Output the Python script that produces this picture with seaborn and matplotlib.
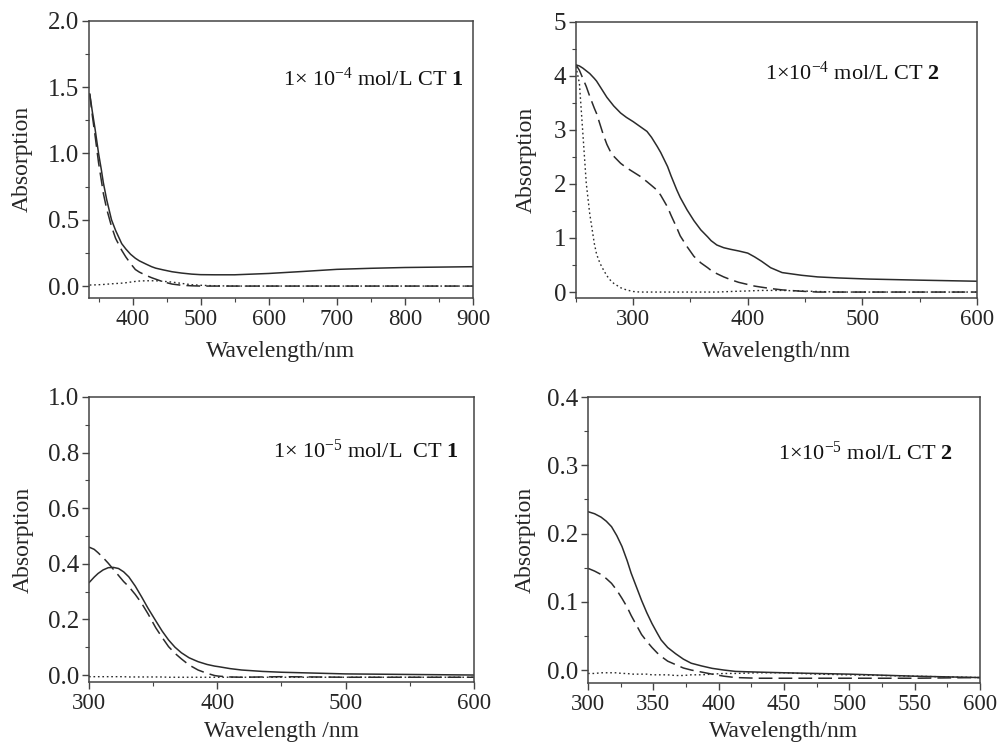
import numpy as np
import pandas as pd
import seaborn as sns
import matplotlib
matplotlib.use('Agg')
import matplotlib.pyplot as plt
from matplotlib import font_manager
from matplotlib.ticker import MultipleLocator

sns.set_style('ticks')

# make sure a Times-like serif is registered
serif_name = 'Liberation Serif'
for f in font_manager.findSystemFonts():
    if 'LiberationSerif' in f.replace(' ', ''):
        font_manager.fontManager.addfont(f)
        serif_name = font_manager.FontProperties(fname=f).get_name()
plt.rcParams['font.family'] = [serif_name, 'DejaVu Serif']
plt.rcParams['mathtext.fontset'] = 'custom'
plt.rcParams['mathtext.rm'] = serif_name
plt.rcParams['mathtext.bf'] = serif_name + ':bold'
plt.rcParams['mathtext.it'] = serif_name + ':italic'

# ---- panel a: 1e-4 mol/L CT 1 ----
wl_a = [337, 341, 345, 350, 354, 357, 362, 369, 375, 384, 390, 397, 404, 410, 420, 428, 434, 445,
        458, 472, 487, 500, 521, 550, 600, 650, 700, 750, 800, 850, 900]
solid_a = [1.45, 1.31, 1.18, 1.00, 0.88, 0.78, 0.65, 0.50, 0.42, 0.32, 0.28, 0.24, 0.21, 0.19, 0.165,
           0.146, 0.135, 0.122, 0.108, 0.098, 0.09, 0.086, 0.085, 0.085, 0.095, 0.11, 0.126, 0.134,
           0.14, 0.143, 0.146]
dash_a = [1.45, 1.28, 1.13, 0.93, 0.80, 0.70, 0.58, 0.45, 0.36, 0.27, 0.22, 0.17, 0.125, 0.105, 0.08,
          0.063, 0.052, 0.032, 0.015, 0.006, 0.002, 0.0, 0.0, 0.0, 0.0, 0.0, 0.0, 0.0, 0.0, 0.0, 0.0]
dot_a = [0.008, 0.008, 0.009, 0.010, 0.011, 0.012, 0.014, 0.017, 0.019, 0.022, 0.025, 0.030, 0.035,
         0.038, 0.040, 0.040, 0.040, 0.036, 0.030, 0.020, 0.010, 0.006, 0.002, 0.0, 0.0, 0.0, 0.0,
         0.0, 0.0, 0.0, 0.0]

# ---- panel b: 1e-4 mol/L CT 2 ----
wl_b = [250, 253, 256, 259, 262, 266, 268, 271, 274, 277, 280, 283, 289, 294, 300, 306, 312, 316,
        321, 324, 330, 333, 338, 341, 347, 353, 359, 365, 368, 373, 379, 385, 392, 400, 406, 412,
        420, 430, 447, 461, 480, 506, 550, 600]
solid_b = [4.20, 4.18, 4.14, 4.09, 4.04, 3.95, 3.90, 3.80, 3.70, 3.60, 3.52, 3.44, 3.31, 3.23, 3.15,
           3.06, 2.97, 2.86, 2.69, 2.58, 2.32, 2.15, 1.89, 1.75, 1.52, 1.32, 1.15, 1.02, 0.95, 0.87,
           0.82, 0.79, 0.76, 0.72, 0.65, 0.57, 0.45, 0.36, 0.31, 0.28, 0.26, 0.24, 0.22, 0.20]
dash_b = [4.20, 4.10, 3.95, 3.80, 3.62, 3.40, 3.30, 3.10, 2.90, 2.73, 2.60, 2.51, 2.38, 2.30, 2.22,
          2.14, 2.04, 1.97, 1.88, 1.79, 1.57, 1.42, 1.19, 1.04, 0.84, 0.66, 0.54, 0.45, 0.40, 0.34,
          0.28, 0.23, 0.18, 0.14, 0.11, 0.09, 0.065, 0.04, 0.015, 0.0, 0.0, 0.0, 0.0, 0.0]
dot_b = [4.17, 3.86, 2.94, 2.01, 1.45, 0.90, 0.70, 0.53, 0.41, 0.30, 0.22, 0.16, 0.08, 0.04, 0.01,
         0.0, 0.0, 0.0, 0.0, 0.0, 0.0, 0.0, 0.0, 0.0, 0.0, 0.0, 0.0, 0.0, 0.0, 0.0, 0.005, 0.01,
         0.015, 0.02, 0.025, 0.03, 0.03, 0.03, 0.02, 0.01, 0.0, 0.0, 0.0, 0.0]

# ---- panel c: 1e-5 mol/L CT 1 ----
wl_c = [300, 304, 307, 311, 315, 319, 323, 327, 331, 336, 341, 346, 352, 357, 362, 367, 372, 378,
        385, 392, 398, 401, 410, 419, 435, 450, 475, 500, 550, 600]
solid_c = [0.332, 0.352, 0.365, 0.378, 0.386, 0.387, 0.383, 0.371, 0.353, 0.320, 0.281, 0.240, 0.195,
           0.158, 0.126, 0.100, 0.080, 0.062, 0.048, 0.038, 0.032, 0.030, 0.023, 0.018, 0.013, 0.010,
           0.007, 0.004, 0.002, 0.0]
dash_c = [0.460, 0.452, 0.440, 0.422, 0.402, 0.380, 0.358, 0.336, 0.318, 0.290, 0.258, 0.220, 0.170,
          0.135, 0.102, 0.078, 0.058, 0.036, 0.018, 0.006, -0.002, -0.004, -0.007, -0.008, -0.007,
          -0.006, -0.007, -0.008, -0.008, -0.008]
dot_c = [-0.006, -0.006, -0.006, -0.006, -0.006, -0.006, -0.006, -0.006, -0.007, -0.007, -0.007,
         -0.007, -0.007, -0.007, -0.008, -0.008, -0.008, -0.008, -0.008, -0.008, -0.008, -0.008,
         -0.008, -0.008, -0.008, -0.008, -0.008, -0.008, -0.008, -0.008]

# ---- panel d: 1e-5 mol/L CT 2 ----
wl_d = [300, 305, 310, 314, 318, 322, 326, 330, 333, 337, 341, 345, 349, 353, 356, 361, 367, 373,
        379, 387, 395, 404, 413, 430, 450, 475, 500, 550, 600]
solid_d = [0.232, 0.229, 0.224, 0.218, 0.210, 0.197, 0.181, 0.160, 0.142, 0.122, 0.102, 0.084, 0.068,
           0.054, 0.044, 0.033, 0.024, 0.016, 0.010, 0.006, 0.0025, 0.0, -0.002, -0.003, -0.004,
           -0.005, -0.006, -0.009, -0.011]
dash_d = [0.149, 0.145, 0.140, 0.134, 0.127, 0.117, 0.105, 0.092, 0.080, 0.066, 0.052, 0.042, 0.033,
          0.025, 0.020, 0.013, 0.008, 0.003, 0.0, -0.003, -0.006, -0.009, -0.011, -0.012, -0.012,
          -0.012, -0.012, -0.012, -0.011]
dot_d = [-0.005, -0.005, -0.004, -0.004, -0.004, -0.004, -0.005, -0.005, -0.006, -0.006, -0.006,
         -0.006, -0.007, -0.007, -0.007, -0.007, -0.008, -0.008, -0.007, -0.007, -0.006, -0.005,
         -0.005, -0.004, -0.004, -0.006, -0.007, -0.009, -0.011]

panels = [
    dict(wl=wl_a, s=solid_a, d=dash_a, o=dot_a, rect=[0.0893, 0.600, 0.385, 0.372],
         xlim=(336, 900), ylim=(-0.09, 2.0), xmaj=100, xmin=50, ymaj=0.5, ymin=0.25, yfmt='%.1f',
         label='1\u00d7 10$^{-4}$ mol/L CT $\\mathbf{1}$', tpos=(0.505, 0.79),
         xlab='Wavelength/nm', ypad=11, xpad=8),
    dict(wl=wl_b, s=solid_b, d=dash_b, o=dot_b, rect=[0.5777, 0.600, 0.402, 0.371],
         xlim=(250, 600), ylim=(-0.11, 5.0), xmaj=100, xmin=50, ymaj=1, ymin=0.5, yfmt='%d',
         label='1\u00d710$^{-4}$ mol/L CT $\\mathbf{2}$', tpos=(0.471, 0.815),
         xlab='Wavelength/nm', ypad=12, xpad=8),
    dict(wl=wl_c, s=solid_c, d=dash_c, o=dot_c, rect=[0.0893, 0.0846, 0.386, 0.3826],
         xlim=(300, 600), ylim=(-0.025, 1.0), xmaj=100, xmin=50, ymaj=0.2, ymin=0.1, yfmt='%.1f',
         label='1\u00d7 10$^{-5}$ mol/L  CT $\\mathbf{1}$', tpos=(0.478, 0.81),
         xlab='Wavelength /nm', ypad=10, xpad=5),
    dict(wl=wl_d, s=solid_d, d=dash_d, o=dot_d, rect=[0.5898, 0.0832, 0.393, 0.3839],
         xlim=(300, 600), ylim=(-0.019, 0.4), xmaj=50, xmin=25, ymaj=0.1, ymin=0.05, yfmt='%.1f',
         label='1\u00d710$^{-5}$ mol/L CT $\\mathbf{2}$', tpos=(0.485, 0.805),
         xlab='Wavelength/nm', ypad=8, xpad=4),
]

line_col = '#2b2b2b'
fig = plt.figure(figsize=(9.97, 7.45), dpi=100)
for p in panels:
    ax = fig.add_axes(p['rect'])
    sns.lineplot(x=p['wl'], y=p['s'], ax=ax, color=line_col, lw=1.1, ls='-')
    sns.lineplot(x=p['wl'], y=p['d'], ax=ax, color=line_col, lw=1.1, ls=(0, (9, 4)))
    sns.lineplot(x=p['wl'], y=p['o'], ax=ax, color=line_col, lw=1.0, ls=(0, (1.2, 2)))
    ax.set_xlim(*p['xlim'])
    ax.set_ylim(*p['ylim'])
    ax.xaxis.set_major_locator(MultipleLocator(p['xmaj']))
    ax.xaxis.set_minor_locator(MultipleLocator(p['xmin']))
    ax.yaxis.set_major_locator(MultipleLocator(p['ymaj']))
    ax.yaxis.set_minor_locator(MultipleLocator(p['ymin']))
    ax.yaxis.set_major_formatter(matplotlib.ticker.FormatStrFormatter(p['yfmt']))
    ax.tick_params(which='major', direction='out', length=5, width=1, color='#444', pad=2)
    ax.tick_params(axis='x', which='major', labelsize=16.5, pad=3)
    ax.tick_params(axis='y', which='major', labelsize=18)
    ax.tick_params(which='minor', direction='out', length=3, width=0.8, color='#444')
    for sp in ax.spines.values():
        sp.set_color('#444')
        sp.set_linewidth(1.1)
    ax.set_ylabel('Absorption', fontsize=17, labelpad=p['ypad'])
    ax.set_xlabel(p['xlab'], fontsize=17, labelpad=p['xpad'])
    ax.text(p['tpos'][0], p['tpos'][1], p['label'], transform=ax.transAxes, fontsize=16,
            va='center', ha='left', color='#111')

fig.savefig('out.png', dpi=100, facecolor='white')
